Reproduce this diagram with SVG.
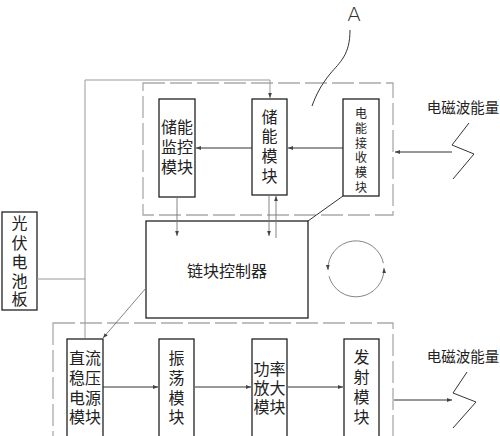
<svg xmlns="http://www.w3.org/2000/svg" width="500" height="436" viewBox="0 0 500 436">
<defs>
<marker id="ahs" markerWidth="6" markerHeight="5" refX="5" refY="2.5" orient="auto" markerUnits="userSpaceOnUse"><path d="M0,0.6 L5,2.5 L0,4.4 Z" fill="#444"/></marker>
</defs>
<style>
.box{fill:#fff;stroke:#222;stroke-width:1.3}
.dash{fill:none;stroke:#aaa;stroke-width:1.3;stroke-dasharray:22 5}
.wire{fill:none;stroke:#999;stroke-width:1}
.ln{fill:none;stroke:#333;stroke-width:1}
.thin{fill:none;stroke:#777;stroke-width:0.9}
.t{font-family:"Noto Sans CJK SC","Noto Sans CJK JP",sans-serif;fill:#222;text-anchor:middle}
</style>
<rect width="500" height="436" fill="#fff"/>
<rect class="dash" x="143" y="83" width="250" height="132"/>
<rect class="dash" x="53" y="323" width="340" height="130"/>
<text x="354" y="21" font-family="DejaVu Sans, sans-serif" font-size="20" fill="#333" text-anchor="middle" font-weight="300">A</text>
<text class="t" x="463" y="113" font-size="14.5">电磁波能量</text>
<text class="t" x="463" y="362" font-size="14.5">电磁波能量</text>
<g id="n_storage_monitor"><rect class="box" x="159" y="99" width="36" height="98"/>
<text class="t" font-size="16"><tspan x="177" y="133">储能</tspan><tspan x="177" y="153">监控</tspan><tspan x="177" y="173">模块</tspan></text></g>
<g id="n_storage"><rect class="box" x="252" y="99" width="35" height="96"/>
<text class="t" font-size="16"><tspan x="269.5" y="123">储</tspan><tspan x="269.5" y="142">能</tspan><tspan x="269.5" y="162">模</tspan><tspan x="269.5" y="182">块</tspan></text></g>
<g id="n_receive"><rect class="box" x="343" y="99" width="36" height="97"/>
<text class="t" font-size="12"><tspan x="361" y="118">电</tspan><tspan x="361" y="133">能</tspan><tspan x="361" y="148">接</tspan><tspan x="361" y="162">收</tspan><tspan x="361" y="177">模</tspan><tspan x="361" y="192">块</tspan></text></g>
<g id="n_controller"><rect class="box" x="146" y="221" width="162" height="97" stroke-width="1.6"/>
<text class="t" x="227" y="277" font-size="16">链块控制器</text></g>
<g id="n_pv"><rect class="box" x="2" y="212" width="35" height="98"/>
<text class="t" font-size="16"><tspan x="19.5" y="229">光</tspan><tspan x="19.5" y="249">伏</tspan><tspan x="19.5" y="268">电</tspan><tspan x="19.5" y="287">池</tspan><tspan x="19.5" y="305">板</tspan></text></g>
<g id="n_dc"><rect class="box" x="67" y="339" width="36" height="110"/>
<text class="t" font-size="16"><tspan x="85" y="364">直流</tspan><tspan x="85" y="384">稳压</tspan><tspan x="85" y="404">电源</tspan><tspan x="85" y="423">模块</tspan></text></g>
<g id="n_osc"><rect class="box" x="159" y="339" width="35" height="110"/>
<text class="t" font-size="16"><tspan x="176.5" y="364">振</tspan><tspan x="176.5" y="384">荡</tspan><tspan x="176.5" y="404">模</tspan><tspan x="176.5" y="423">块</tspan></text></g>
<g id="n_amp"><rect class="box" x="252" y="339" width="35" height="110"/>
<text class="t" font-size="16"><tspan x="269.5" y="375">功率</tspan><tspan x="269.5" y="394">放大</tspan><tspan x="269.5" y="413">模块</tspan></text></g>
<g id="n_tx"><rect class="box" x="344" y="339" width="35" height="110"/>
<text class="t" font-size="16"><tspan x="361.5" y="363">发</tspan><tspan x="361.5" y="383">射</tspan><tspan x="361.5" y="403">模</tspan><tspan x="361.5" y="423">块</tspan></text></g>
<g id="connectors">
<path class="wire" d="M85,338 V80 H270 V98" marker-end="url(#ahs)"/>
<path class="wire" d="M37,279 H85"/>
<path class="ln" d="M343,148 H288" marker-end="url(#ahs)"/>
<path class="ln" d="M252,148 H196" marker-end="url(#ahs)"/>
<path class="ln" d="M452,152 H395" marker-end="url(#ahs)"/>
<path class="thin" d="M177,197 V236" marker-end="url(#ahs)"/>
<path class="thin" d="M269,195 V236" marker-end="url(#ahs)"/>
<path class="thin" d="M276,238 V196" marker-end="url(#ahs)"/>
<path class="ln" d="M308,221 L343,196"/>
<path class="thin" d="M146,288 L103,338" marker-end="url(#ahs)"/>
<path class="ln" d="M103,387 H158" marker-end="url(#ahs)"/>
<path class="ln" d="M195,387 H251" marker-end="url(#ahs)"/>
<path class="ln" d="M288,387 H343" marker-end="url(#ahs)"/>
<path class="ln" d="M394,400 H452" marker-end="url(#ahs)"/>
<path class="ln" d="M469,123 L452,145 L474,154 L453,179"/>
<path class="ln" d="M467,372 L453,393 L476,402 L453,428"/>
<path class="ln" d="M350,30 C350,55 340,62 330,74 C321,85 316,95 312,106"/>
<path class="thin" d="M383.4,263.2 A28,28 0 0 0 328,270" marker-end="url(#ahs)"/>
<path class="thin" d="M329,276.2 A28,28 0 0 0 384,268" marker-end="url(#ahs)"/>
</g>
</svg>
